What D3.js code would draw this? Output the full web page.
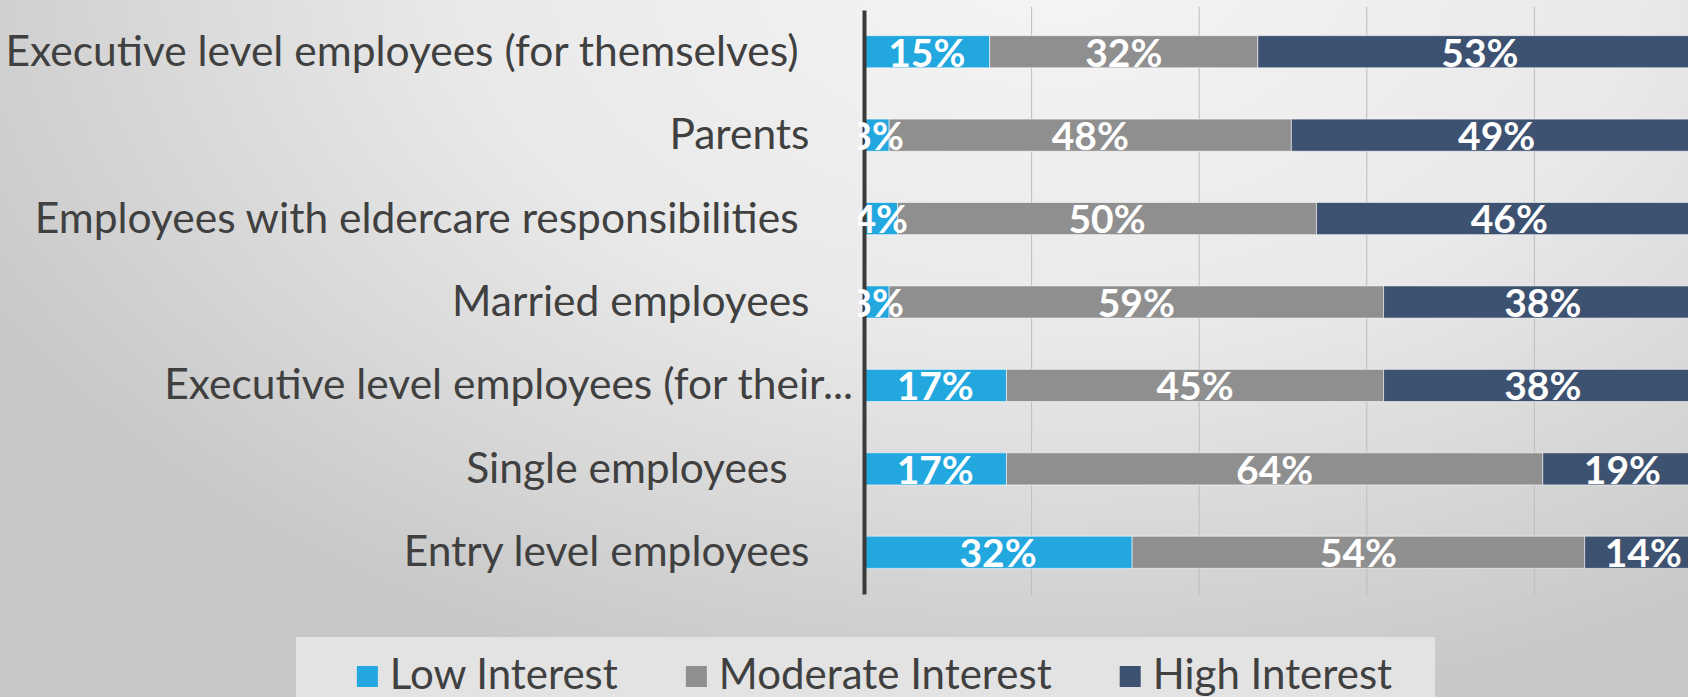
<!DOCTYPE html>
<html>
<head>
<meta charset="utf-8">
<script src="https://cdn.jsdelivr.net/npm/d3@7"></script>
<style>
  html, body { margin: 0; padding: 0; background: #dcdcdc; }
  svg { display: block; }
  text { white-space: pre; }
</style>
</head>
<body>
<svg id="chart" width="1688" height="697"></svg>
<script>
// Interest in the benefit, by employee group (share of respondents, %)
const categories = [
  "Executive level employees (for themselves)\u00A0\u00A0\u00A0\u00A0\u00A0",
  "Parents\u00A0\u00A0\u00A0\u00A0",
  "Employees with eldercare responsibilities\u00A0\u00A0\u00A0\u00A0\u00A0",
  "Married employees\u00A0\u00A0\u00A0\u00A0",
  "Executive level employees (for their...",
  "Single employees\u00A0\u00A0\u00A0\u00A0\u00A0\u00A0",
  "Entry level employees\u00A0\u00A0\u00A0\u00A0"
];
const lowInterest      = [15, 3, 4, 3, 17, 17, 32];
const moderateInterest = [32, 48, 50, 59, 45, 64, 54];
const highInterest     = [53, 49, 46, 38, 38, 19, 14];
const seriesNames  = ["Low Interest", "Moderate Interest", "High Interest"];
const seriesColors = ["#22a7df", "#8f8f8f", "#3d5170"];
const gridTicks = [20, 40, 60, 80, 100];

const W = 1688, H = 697;
const plot = { left: 864, right: 1702, top: 10, bottom: 594 };
const FONT = "Lato, 'Open Sans', sans-serif";

const svg = d3.select("#chart");
const defs = svg.append("defs");

// soft grey slide background, brightest near the top centre
const bg = defs.append("radialGradient")
  .attr("id", "bg")
  .attr("gradientUnits", "userSpaceOnUse")
  .attr("cx", 0).attr("cy", 0).attr("r", 1)
  .attr("gradientTransform", "translate(1050,-40) scale(1200,760)");
bg.append("stop").attr("offset", 0).attr("stop-color", "#f5f5f5");
bg.append("stop").attr("offset", 0.5).attr("stop-color", "#e9e9e9");
bg.append("stop").attr("offset", 1).attr("stop-color", "#c8c8c8");
svg.append("rect").attr("width", W).attr("height", H).attr("fill", "url(#bg)");

defs.append("clipPath").attr("id", "plotClip")
  .append("rect").attr("x", plot.left - 6).attr("y", 0)
  .attr("width", W - plot.left + 6).attr("height", H);

const rows = categories.map((c, i) => ({
  category: c,
  "Low Interest": lowInterest[i],
  "Moderate Interest": moderateInterest[i],
  "High Interest": highInterest[i]
}));

const x = d3.scaleLinear().domain([0, 100]).range([plot.left, plot.right]);
const y = d3.scaleBand().domain(categories)
  .range([plot.top, plot.bottom])
  .paddingInner(0.615).paddingOuter(0.3075);
const color = d3.scaleOrdinal().domain(seriesNames).range(seriesColors);

// vertical gridlines
svg.append("g")
  .selectAll("line")
  .data(gridTicks)
  .join("line")
  .attr("x1", d => x(d)).attr("x2", d => x(d))
  .attr("y1", plot.top - 3).attr("y2", plot.bottom + 1)
  .attr("stroke", "#bdbdbd").attr("stroke-width", 1);

// stacked bars
const stacked = d3.stack().keys(seriesNames)(rows);
const layers = svg.append("g")
  .selectAll("g")
  .data(stacked)
  .join("g")
  .attr("fill", d => color(d.key));

layers.selectAll("rect")
  .data(d => d)
  .join("rect")
  .attr("x", d => x(d[0]))
  .attr("y", d => y(d.data.category))
  .attr("width", d => x(d[1]) - x(d[0]))
  .attr("height", y.bandwidth())
  .attr("stroke", "#ffffff").attr("stroke-opacity", 0.55).attr("stroke-width", 1);

// category axis
const yAxis = svg.append("g")
  .attr("transform", `translate(${plot.left},0)`)
  .call(d3.axisLeft(y).tickSize(0).tickSizeOuter(0).tickPadding(11));
yAxis.select(".domain").attr("stroke", "#3a3a3a").attr("stroke-width", 4);
yAxis.selectAll("text")
  .attr("font-family", FONT)
  .attr("font-size", 42.5)
  .attr("fill", "#404040")
  .attr("dy", "0.33em");

// value labels inside each segment
const labels = svg.append("g").attr("clip-path", "url(#plotClip)");
stacked.forEach(layer => {
  labels.append("g")
    .selectAll("text")
    .data(layer)
    .join("text")
    .attr("x", d => (x(d[0]) + x(d[1])) / 2)
    .attr("y", d => y(d.data.category) + y.bandwidth() / 2)
    .attr("dy", "0.38em")
    .attr("text-anchor", "middle")
    .attr("font-family", FONT)
    .attr("font-weight", 700)
    .attr("font-size", 39)
    .attr("fill", "#ffffff")
    .text(d => `${d[1] - d[0]}%`);
});

// legend
const legendBox = { x: 296, y: 637, w: 1139, h: 70 };
const legend = svg.append("g");
legend.append("rect")
  .attr("x", legendBox.x).attr("y", legendBox.y)
  .attr("width", legendBox.w).attr("height", legendBox.h)
  .attr("fill", "#e3e3e3");

const sw = 21, swGap = 12, itemGap = 68, baseline = 689;
const items = legend.selectAll("g.item")
  .data(seriesNames)
  .join("g").attr("class", "item");
items.append("rect")
  .attr("width", sw).attr("height", sw)
  .attr("y", baseline - sw - 2)
  .attr("fill", d => color(d));
items.append("text")
  .attr("x", sw + swGap)
  .attr("y", baseline)
  .attr("font-family", FONT)
  .attr("font-size", 42)
  .attr("fill", "#404040")
  .text(d => d);

// lay the items out in a row, centred in the legend box
const widths = [];
items.each(function () {
  widths.push(sw + swGap + this.querySelector("text").getComputedTextLength());
});
const total = d3.sum(widths) + itemGap * (widths.length - 1);
let cursor = legendBox.x + legendBox.w / 2 - total / 2 + 9;
items.each(function (d, i) {
  d3.select(this).attr("transform", `translate(${cursor},0)`);
  cursor += widths[i] + itemGap;
});
</script>
</body>
</html>
